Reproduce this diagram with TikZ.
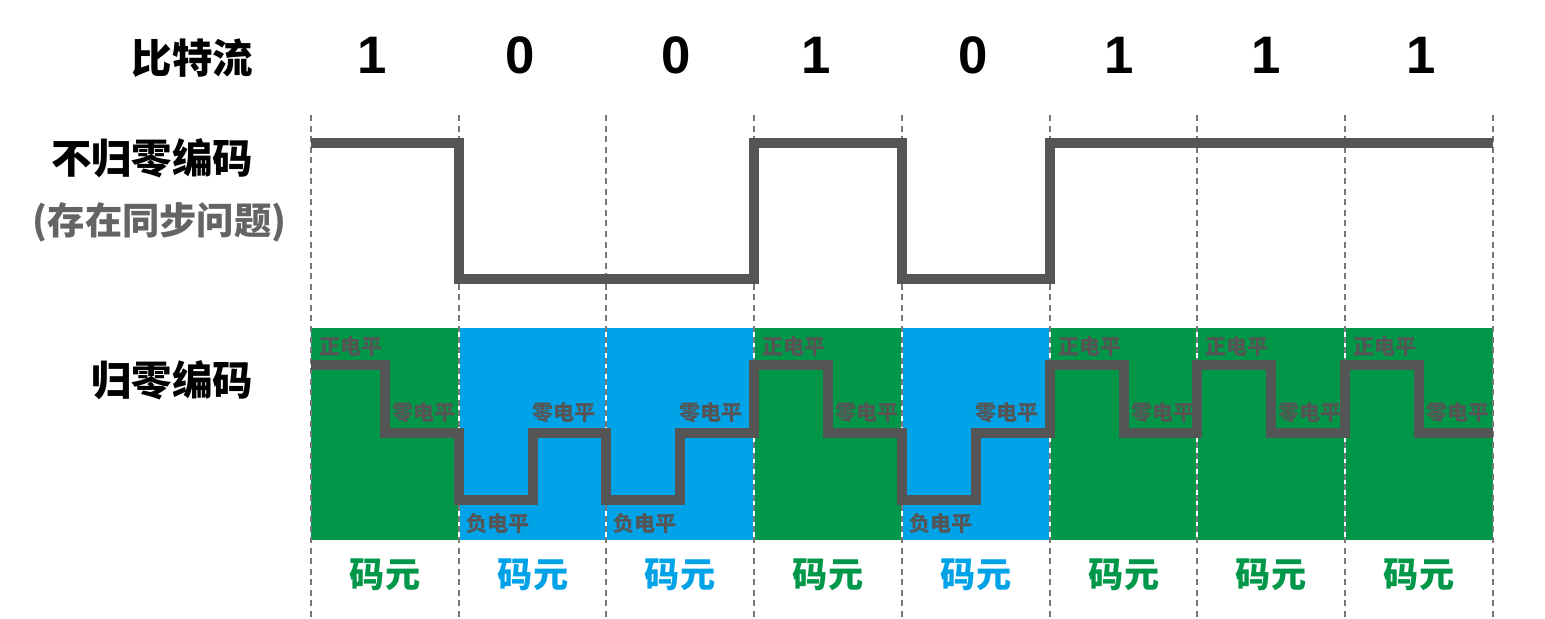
\documentclass[tikz,border=0pt]{standalone}
\usepackage{fontspec}
\usepackage{xcolor}
\usepackage{tikz}
\usetikzlibrary{positioning}
\setmainfont{Liberation Sans}
\newfontfamily\cjk{Noto Sans CJK SC}
\definecolor{waveGray} {RGB}{85, 85, 85}
\definecolor{dashGray} {RGB}{120,120,120}
\definecolor{noteGray} {RGB}{100,100,100}
\definecolor{cellGreen}{RGB}{0, 152, 72}
\definecolor{cellBlue} {RGB}{0, 162, 232}

\begin{document}
\begin{tikzpicture}[x=0.01cm,y=-0.01cm,
          ttl/.style={font=\cjk\bfseries\fontsize{11.5}{13}\selectfont,
                      anchor=east,inner sep=0pt},
          bitlbl/.style={font=\bfseries\fontsize{15}{17}\selectfont,inner sep=0pt},
          cellunit/.style={font=\cjk\bfseries\fontsize{10}{12}\selectfont,inner sep=0pt},
          lvllbl/.style={font=\cjk\bfseries\fontsize{6}{7}\selectfont,
                         text=waveGray,inner sep=0pt},
          divline/.style={dashGray,line width=0.6pt,dash pattern=on 1.7pt off 1.3pt},
          wave/.style={waveGray,line width=2.7pt}]
          \useasboundingbox (0,0) rectangle (1545,619);
          % row titles
          \node[ttl] (bits) at (254,58) {比特流};
          \node[ttl] (nrz) at (254,158) {不归零编码};
          \node[ttl,text=noteGray,font=\cjk\bfseries\fontsize{10.6}{12}\selectfont]
                (note) at (287,222) {(存在同步问题)};
          \node[ttl] (rz) at (254,380) {归零编码};
          % bit stream
          \node[bitlbl] (b1) at (372,55) {1};
          \node[bitlbl] (b2) at (520,55) {0};
          \node[bitlbl] (b3) at (676,55) {0};
          \node[bitlbl] (b4) at (816,55) {1};
          \node[bitlbl] (b5) at (973,55) {0};
          \node[bitlbl] (b6) at (1119,55) {1};
          \node[bitlbl] (b7) at (1266,55) {1};
          \node[bitlbl] (b8) at (1421,55) {1};
          % coloured symbol cells
          \fill[cellGreen] (311,328) rectangle (459,540);
          \fill[cellBlue]  (459,328) rectangle (606,540);
          \fill[cellBlue]  (606,328) rectangle (754,540);
          \fill[cellGreen] (754,328) rectangle (902,540);
          \fill[cellBlue]  (902,328) rectangle (1050,540);
          \fill[cellGreen] (1050,328) rectangle (1493,540);
          \draw[white,line width=0.8pt]
            (459,328)--(459,540) (606,328)--(606,540) (754,328)--(754,540)
            (902,328)--(902,540) (1050,328)--(1050,540) (1197,328)--(1197,540)
            (1345,328)--(1345,540);
          \draw[divline]
            (311,115)--(311,619) (459,115)--(459,619) (606,115)--(606,619)
            (754,115)--(754,619) (902,115)--(902,619) (1050,115)--(1050,619)
            (1197,115)--(1197,619) (1345,115)--(1345,619) (1493,115)--(1493,619);
          % level labels
          \node[lvllbl] (p1) at (351,347) {正电平};
          \node[lvllbl] (z1) at (424,413) {零电平};
          \node[lvllbl] (n2) at (498,524) {负电平};
          \node[lvllbl] (z2) at (564,413) {零电平};
          \node[lvllbl] (n3) at (645,524) {负电平};
          \node[lvllbl] (z3) at (711,413) {零电平};
          \node[lvllbl] (p4) at (794,347) {正电平};
          \node[lvllbl] (z4) at (867,413) {零电平};
          \node[lvllbl] (n5) at (941,524) {负电平};
          \node[lvllbl] (z5) at (1007,413) {零电平};
          \node[lvllbl] (p6) at (1090,347) {正电平};
          \node[lvllbl] (z6) at (1163,413) {零电平};
          \node[lvllbl] (p7) at (1237,347) {正电平};
          \node[lvllbl] (z7) at (1310,413) {零电平};
          \node[lvllbl] (p8) at (1385,347) {正电平};
          \node[lvllbl] (z8) at (1458,413) {零电平};
          % waveforms
          \draw[wave] (311,143) -- (459,143) -- (459,279) -- (754,279) -- (754,143)
            -- (902,143) -- (902,279) -- (1050,279) -- (1050,143) -- (1493,143);
          \draw[wave] (311,365) -- (385,365) -- (385,433) -- (459,433) -- (459,500)
            -- (533,500) -- (533,433) -- (606,433) -- (606,500) -- (680,500)
            -- (680,433) -- (754,433) -- (754,365) -- (828,365) -- (828,433)
            -- (902,433) -- (902,500) -- (976,500) -- (976,433) -- (1050,433)
            -- (1050,365) -- (1124,365) -- (1124,433) -- (1197,433) -- (1197,365)
            -- (1271,365) -- (1271,433) -- (1345,433) -- (1345,365) -- (1419,365)
            -- (1419,433) -- (1493,433);
          % code units
          \node[cellunit,text=cellGreen] (u1) at (385,575) {码元};
          \node[cellunit,text=cellBlue]  (u2) at (533,575) {码元};
          \node[cellunit,text=cellBlue]  (u3) at (680,575) {码元};
          \node[cellunit,text=cellGreen] (u4) at (828,575) {码元};
          \node[cellunit,text=cellBlue]  (u5) at (976,575) {码元};
          \node[cellunit,text=cellGreen] (u6) at (1124,575) {码元};
          \node[cellunit,text=cellGreen] (u7) at (1271,575) {码元};
          \node[cellunit,text=cellGreen] (u8) at (1419,575) {码元};
        \end{tikzpicture}
\end{document}
